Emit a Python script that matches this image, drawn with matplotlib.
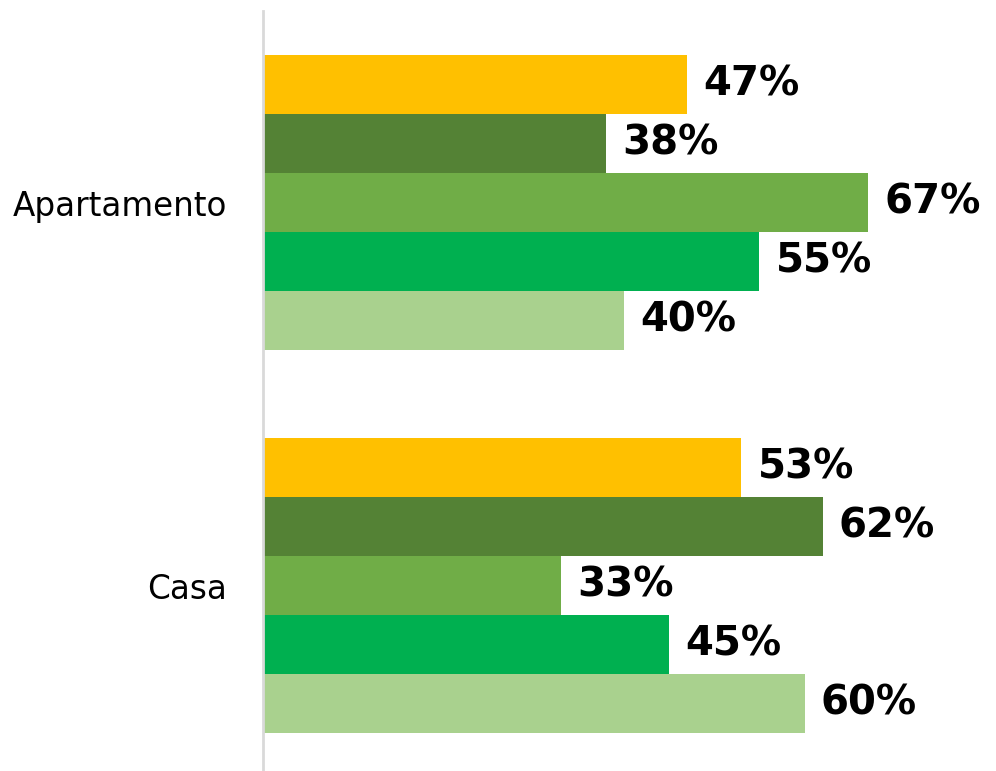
import matplotlib
matplotlib.use("Agg")
import matplotlib.pyplot as plt
import numpy as np

categories = ["Apartamento", "Casa"]
series_colors = ["#FFC000", "#548235", "#70AD47", "#00B050", "#A9D18E"]
values = [
    [47, 38, 67, 55, 40],   # Apartamento
    [53, 62, 33, 45, 60],   # Casa
]

fig = plt.figure(figsize=(9.96, 7.71), dpi=100)
ax = fig.add_axes([263/996, 0.0, 1 - 263/996, 1 - 11/771])

bar_h = 0.154
group_y = [1, 0]
n = len(series_colors)
for gi, (gy, vals) in enumerate(zip(group_y, values)):
    for si, v in enumerate(vals):
        y = gy + (n - 1) / 2 * bar_h - si * bar_h
        ax.barh(y, v, height=bar_h, color=series_colors[si], edgecolor="none")
        ax.text(v + 1.8, y, f"{v}%", va="center", ha="left",
                fontsize=29, fontweight="bold", color="black")

ax.set_xlim(0, 81.2)
ax.set_ylim(-0.484, 1.5)
ax.set_yticks(group_y)
ax.set_yticklabels(categories, fontsize=23.5)
ax.tick_params(axis="y", length=0, pad=26)
ax.set_xticks([])
for s in ["top", "right", "bottom"]:
    ax.spines[s].set_visible(False)
ax.spines["left"].set_color("#D9D9D9")
ax.spines["left"].set_linewidth(2)

fig.savefig("out.png", dpi=100)
